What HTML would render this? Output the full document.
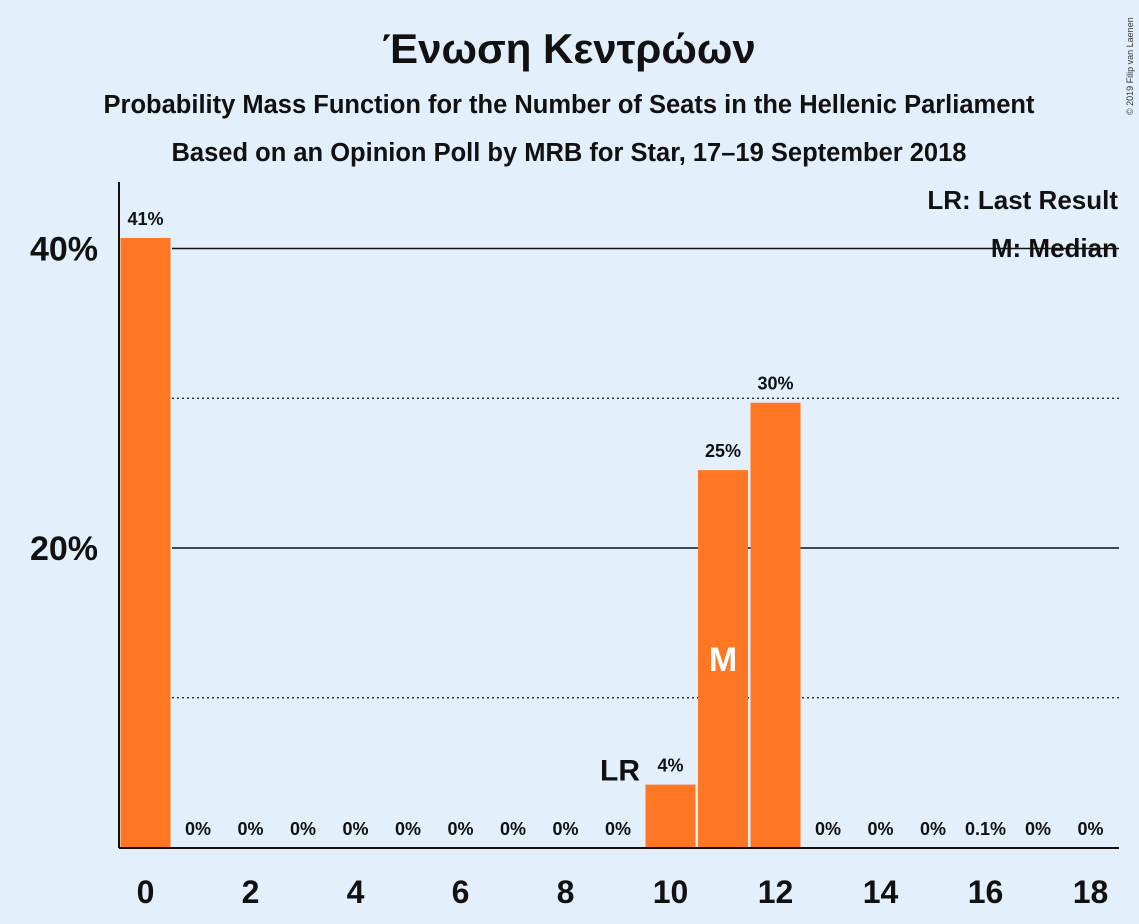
<!DOCTYPE html>
<html><head><meta charset="utf-8"><style>
body{margin:0;background:#e3f0fc;}
svg{display:block;font-family:"Liberation Sans","DejaVu Sans",sans-serif;}
</style></head><body>
<svg id="chart" width="1139" height="924" viewBox="0 0 1139 924">
<rect width="1139" height="924" fill="#e3f0fc"/>
<text x="569" y="63" text-anchor="middle" font-size="42" font-weight="bold" fill="#111">Ένωση Κεντρώων</text>
<text x="569" y="113" text-anchor="middle" font-size="25.5" font-weight="bold" fill="#111">Probability Mass Function for the Number of Seats in the Hellenic Parliament</text>
<text x="569" y="161" text-anchor="middle" font-size="25.5" font-weight="bold" fill="#111">Based on an Opinion Poll by MRB for Star, 17–19 September 2018</text>
<text x="1133" y="115" font-size="9" fill="#333" transform="rotate(-90 1133 115)">© 2019 Filip van Laenen</text>
<g id="grid"></g>
<g id="bars"></g>
<g id="labels"></g>
<line x1="119" y1="182" x2="119" y2="848" stroke="#111" stroke-width="2"/>
<line x1="119" y1="848" x2="1119" y2="848" stroke="#111" stroke-width="2"/>
<text x="1118" y="209" text-anchor="end" font-size="26" font-weight="bold" fill="#111">LR: Last Result</text>
<text x="1118" y="257" text-anchor="end" font-size="26" font-weight="bold" fill="#111">M: Median</text>
</svg>
<script>
const seats=[0,1,2,3,4,5,6,7,8,9,10,11,12,13,14,15,16,17,18];
const probs=[40.7,0,0,0,0,0,0,0,0,0,4.2,25.2,29.7,0,0,0,0.1,0,0];
const valueLabels=["41%","0%","0%","0%","0%","0%","0%","0%","0%","0%","4%","25%","30%","0%","0%","0%","0.1%","0%","0%"];
const yTicks=[10,20,30,40];
const yTickLabels=["","20%","","40%"];
const xTicks=[0,2,4,6,8,10,12,14,16,18];
const lastResult=9;
const median=11;
const NS="http://www.w3.org/2000/svg";
const y=v=>847.5-v*14.975;
const xc=s=>145.5+s*52.5;
function mk(t,a,p){const e=document.createElementNS(NS,t);for(const k in a)e.setAttribute(k,a[k]);p.appendChild(e);return e;}
const grid=document.getElementById('grid'),bars=document.getElementById('bars'),labels=document.getElementById('labels');
yTicks.forEach((v,i)=>{
  const solid=v%20===0;
  const l=mk('line',{x1:172,x2:1119,y1:y(v),y2:y(v),stroke:'#111','stroke-width':solid?1.5:1.2,'stroke-dasharray':solid?'':'2,3'},grid);
  
  
  if(yTickLabels[i]){
    const t=mk('text',{x:98,y:y(v)+12,'text-anchor':'end','font-size':34,'font-weight':'bold',fill:'#111'},labels);
    t.textContent=yTickLabels[i];
    
    
  }
});
seats.forEach((s,i)=>{
  const p=probs[i];
  if(p>=0.5){
    const r=mk('rect',{x:xc(s)-25,y:y(p),width:50,height:847.5-y(p),fill:'#ff7722'},bars);
    
    
  }
  const t=mk('text',{x:xc(s),y:p>=0.5?y(p)-13:835,'text-anchor':'middle','font-size':18,'font-weight':'bold',fill:'#111'},labels);
  t.textContent=valueLabels[i];
  
  
});
xTicks.forEach(s=>{
  const t=mk('text',{x:xc(s),y:903,'text-anchor':'middle','font-size':32,'font-weight':'bold',fill:'#111'},labels);
  t.textContent=s;
  
  
});
const lrH=Math.max(probs[lastResult],probs[lastResult+1]||0);
const lr=mk('text',{x:xc(lastResult)+22,y:y(lrH)-4,'text-anchor':'end','font-size':30,'font-weight':'bold',fill:'#111'},labels);
lr.textContent='LR';


const m=mk('text',{x:xc(median),y:y(probs[median]/2)+12,'text-anchor':'middle','font-size':34,'font-weight':'bold',fill:'#fff'},labels);
m.textContent='M';


</script>
</body></html>
